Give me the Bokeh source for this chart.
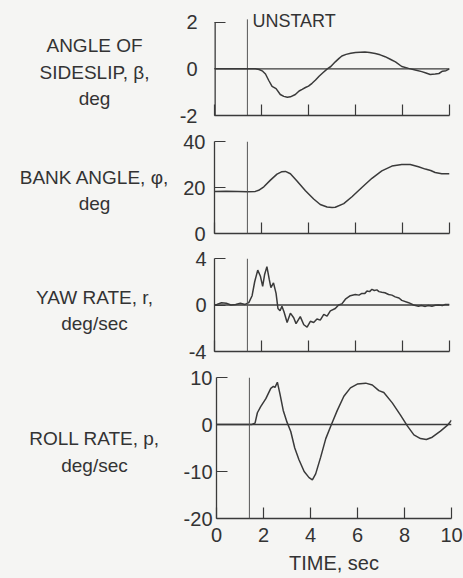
from bokeh.plotting import figure
from bokeh.models import Range1d, FixedTicker, Span, Label
from bokeh.layouts import column, row
from bokeh.embed import file_html
from bokeh.resources import INLINE

# ---------------- data ----------------
unstart_t = 1.4
x_ticks = [0, 2, 4, 6, 8, 10]

beta_t = [0, 1.0, 1.74, 1.9, 2.05, 2.17, 2.31, 2.45, 2.62, 2.8, 2.95, 3.1, 3.23, 3.44, 3.6, 3.73, 3.87, 4.0,
          4.15, 4.3, 4.45, 4.6, 4.8, 4.95, 5.14, 5.3, 5.42, 5.6, 5.8, 6.0, 6.2, 6.4, 6.6, 6.84, 7.05, 7.26,
          7.5, 7.7, 7.97, 8.26, 8.54, 8.82, 9.0, 9.18, 9.39, 9.55, 9.7, 9.85, 10]
beta_v = [0, 0, 0, -0.03, -0.1, -0.22, -0.5, -0.75, -0.85, -1.1, -1.18, -1.22, -1.2, -1.1, -0.95, -0.88,
          -0.8, -0.74, -0.62, -0.48, -0.32, -0.18, 0, 0.1, 0.3, 0.45, 0.55, 0.62, 0.67, 0.7, 0.71, 0.72, 0.7,
          0.66, 0.6, 0.52, 0.4, 0.3, 0.1, 0.02, -0.05, -0.12, -0.18, -0.24, -0.22, -0.2, -0.1, -0.08, 0]

bank_t = [0, 0.5, 1.0, 1.4, 1.74, 1.88, 2.1, 2.38, 2.66, 2.85, 3.02, 3.23, 3.51, 3.87, 4.22, 4.5, 4.79, 5.0,
          5.14, 5.5, 5.85, 6.27, 6.7, 7.12, 7.55, 7.97, 8.33, 8.68, 8.97, 9.2, 9.39, 9.67, 10]
bank_v = [18.3, 18.4, 18.3, 18.2, 18.3, 18.8, 20.3, 23.2, 25.8, 26.8, 27.0, 26.0, 22.8, 18.6, 15.0, 12.6,
          11.5, 11.3, 11.4, 13.0, 16.0, 20.0, 24.0, 27.2, 29.3, 30.0, 30.0, 29.0, 28.0, 27.4, 26.5, 26.0, 26.0]

yaw_t = [0, 0.1, 0.3, 0.5, 0.7, 0.9, 1.1, 1.3, 1.46, 1.6, 1.71, 1.84, 1.95, 2.05, 2.13, 2.23, 2.33, 2.4,
         2.51, 2.62, 2.7, 2.79, 2.87, 2.96, 3.09, 3.23, 3.37, 3.47, 3.65, 3.8, 3.94, 4.08, 4.22, 4.36, 4.5,
         4.65, 4.79, 4.93, 5.14, 5.28, 5.42, 5.57, 5.78, 5.99, 6.15, 6.27, 6.4, 6.49, 6.6, 6.7, 6.8, 6.91,
         7.0, 7.12, 7.25, 7.41, 7.55, 7.69, 7.85, 7.97, 8.26, 8.47, 8.68, 8.8, 8.97, 9.1, 9.25, 9.4, 9.53,
         9.7, 9.82, 10]
yaw_v = [0, 0.05, 0.2, 0.15, 0.0, 0.05, 0.15, 0.05, 0.2, 0.8, 2.0, 3.0, 2.5, 1.6, 2.6, 3.3, 2.2, 1.5,
         1.9, 1.0, -0.3, -0.5, -0.1, -0.6, -1.5, -0.7, -1.1, -1.6, -1.0, -1.7, -1.9, -1.4, -1.5, -1.2,
         -1.3, -0.8, -0.95, -0.5, -0.3, 0.0, 0.1, 0.5, 0.8, 0.9, 0.85, 1.0, 1.0, 1.2, 1.15, 1.35, 1.25,
         1.3, 1.15, 1.1, 1.05, 0.9, 0.85, 0.7, 0.6, 0.4, 0.2, 0.0, -0.1, -0.05, -0.12, -0.05, -0.1, -0.02,
         0.0, -0.05, 0.05, 0.05]

roll_t = [0, 1.5, 1.64, 1.74, 1.88, 2.1, 2.31, 2.42, 2.49, 2.59, 2.7, 2.84, 3.0, 3.16, 3.33, 3.51, 3.73,
          3.94, 4.08, 4.22, 4.43, 4.65, 4.89, 5.14, 5.42, 5.7, 5.99, 6.35, 6.63, 6.91, 7.12, 7.48, 7.83,
          8.12, 8.4, 8.68, 8.93, 9.18, 9.53, 9.82, 10]
roll_v = [0, 0, 0.3, 2.5, 3.8, 5.5, 7.7, 8.1, 7.9, 9.0, 6.5, 3.0, 0.5, -1.5, -5.0, -7.5, -10.0, -11.3,
          -11.8, -10.5, -7.0, -3.0, 0.0, 3.0, 6.0, 7.8, 8.6, 8.8, 8.4, 7.2, 6.8, 4.6, 2.0, -0.3, -2.2, -3.0,
          -3.2, -2.7, -1.4, -0.2, 0.9]

panels = [
    dict(t=beta_t, v=beta_v, yr=(-2, 2.5), ytop=2, yt=[-2, 0, 2],
         lab=["ANGLE OF", "SIDESLIP, \u03b2,", "deg"], laby=[1.0, -0.16, -1.27], zero=True, sto=17),
    dict(t=bank_t, v=bank_v, yr=(0, 40), ytop=40, yt=[0, 20, 40],
         lab=["BANK ANGLE, \u03c6,", "deg"], laby=[24.3, 13.0], zero=False, sto=9),
    dict(t=yaw_t, v=yaw_v, yr=(-4, 4), ytop=4, yt=[-4, 0, 4],
         lab=["YAW RATE, r,", "deg/sec"], laby=[0.64, -1.6], zero=True, sto=8),
    dict(t=roll_t, v=roll_v, yr=(-20, 10), ytop=10, yt=[-20, -10, 0, 10],
         lab=["ROLL RATE, p,", "deg/sec"], laby=[-3.0, -8.7], zero=True, sto=4),
]

# ---------------- style ----------------
BG = "#f5f5f3"
INK = "#3a3a3a"
TXT = "#333333"
FONT = "Liberation Sans"

LAB_W = 168
PAN_W = 295
FRAME_W = 235
geo = [  # height, border top, border bottom, panel border left
    (128, 10, 13, 46),
    (117, 13, 12, 46),
    (119, 13, 13, 46),
    (214, 13, 60, 48),
]

rows = []
for i, (pd_, g) in enumerate(zip(panels, geo)):
    h, bt, bb, bl = g
    last = i == len(panels) - 1
    first = i == 0

    # label strip on the left
    lf = figure(width=LAB_W, height=h, x_range=Range1d(0, LAB_W), y_range=Range1d(*pd_["yr"]),
                x_axis_type=None, y_axis_type=None, output_backend="svg", toolbar_location=None,
                min_border_left=0, min_border_right=0, min_border_top=bt, min_border_bottom=bb,
                background_fill_color=BG, border_fill_color=BG, outline_line_color=None)
    lf.grid.visible = False
    lf.text(x=[94] * len(pd_["lab"]), y=pd_["laby"], text=pd_["lab"], text_align="center",
            text_baseline="middle", text_font={"value": FONT}, text_font_size="19px", text_color=TXT)

    p = figure(width=PAN_W, height=h, x_range=Range1d(0, 10), y_range=Range1d(*pd_["yr"]),
               output_backend="svg", toolbar_location=None,
               min_border_left=bl, min_border_right=PAN_W - bl - FRAME_W,
               min_border_top=bt, min_border_bottom=bb,
               background_fill_color=BG, border_fill_color=BG, outline_line_color=None)
    p.grid.visible = False
    for ax in (p.xaxis[0], p.yaxis[0]):
        ax.axis_line_color = INK
        ax.axis_line_width = 1.3
        ax.major_tick_line_color = INK
        ax.major_tick_line_width = 1.2
        ax.major_tick_in = 11
        ax.major_tick_out = 0
        ax.minor_tick_line_color = None
        ax.major_label_text_color = TXT
        ax.major_label_text_font = FONT
        ax.major_label_text_font_size = "20px"
    p.xaxis.ticker = FixedTicker(ticks=x_ticks)
    p.yaxis.ticker = FixedTicker(ticks=pd_["yt"])
    p.yaxis.major_label_overrides = {v: ("%d" % v) for v in pd_["yt"]}
    p.yaxis.major_label_standoff = pd_["sto"]
    if last:
        p.xaxis.major_label_standoff = 9
        p.xaxis.axis_label = "TIME, sec"
        p.xaxis.axis_label_standoff = 7
        p.xaxis.axis_label_text_font = FONT
        p.xaxis.axis_label_text_font_size = "20px"
        p.xaxis.axis_label_text_font_style = "normal"
        p.xaxis.axis_label_text_color = TXT
    else:
        p.xaxis.major_label_text_color = None
        p.xaxis.major_label_standoff = 0

    if pd_["zero"]:
        p.add_layout(Span(location=0, dimension="width", line_color=INK, line_width=1.3))

    if first:
        # frame reaches above the top tick to leave room for the UNSTART note
        p.yaxis.axis_line_color = None
        p.segment(x0=[0], y0=[pd_["yr"][0]], x1=[0], y1=[pd_["ytop"]], line_color=INK, line_width=2.6)
        p.segment(x0=[unstart_t], y0=[pd_["yr"][0]], x1=[unstart_t], y1=[pd_["ytop"] + 0.12],
                  line_color="#555555", line_width=1)
        p.add_layout(Label(x=unstart_t, y=pd_["ytop"] + 0.07, x_offset=5, text="UNSTART",
                           text_align="left", text_baseline="middle", text_font=FONT,
                           text_font_size="18px", text_color=TXT))
    else:
        p.add_layout(Span(location=unstart_t, dimension="height", line_color="#555555", line_width=1))

    p.line(pd_["t"], pd_["v"], line_color=INK, line_width=1.5)
    rows.append(row(lf, p, spacing=0))

layout = column(*rows, spacing=0)
html = file_html(layout, INLINE)
html = html.replace("<head>", "<head><style>html,body{background:#f5f5f3;}</style>", 1)
open("out.html", "w").write(html)
